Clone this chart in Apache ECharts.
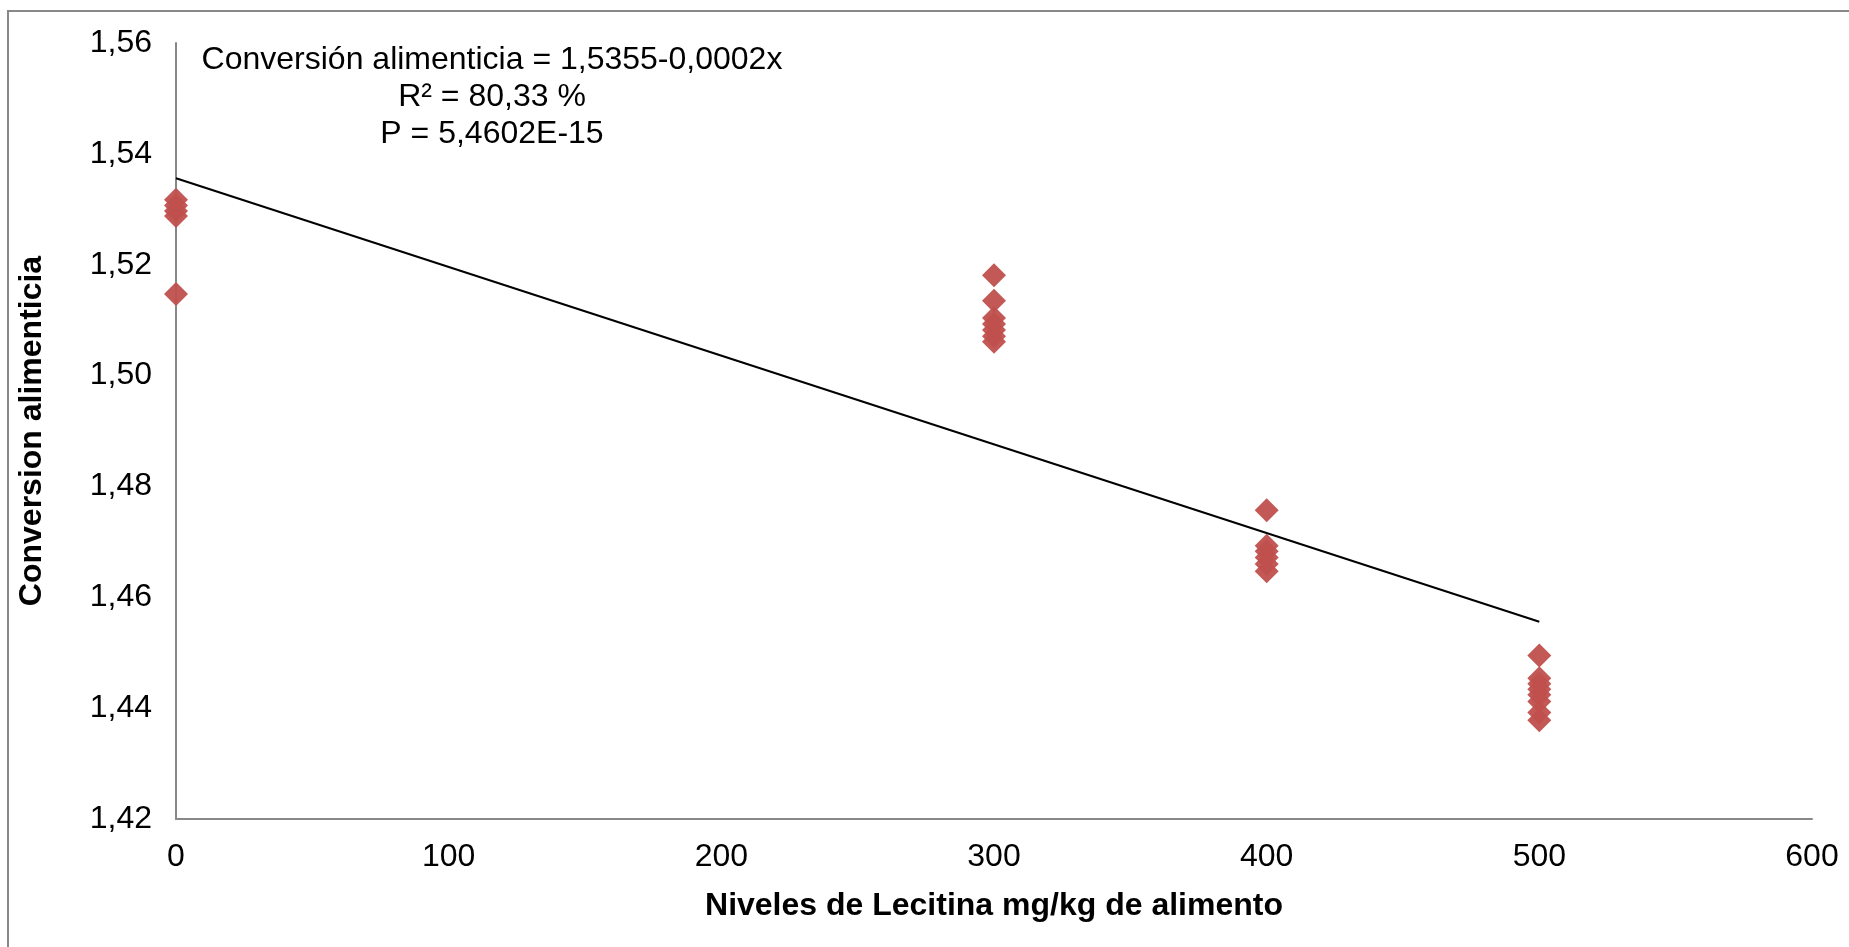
<!DOCTYPE html>
<html><head><meta charset="utf-8">
<script src="https://cdn.jsdelivr.net/npm/echarts@6/dist/echarts.min.js"></script>
<style>html,body{margin:0;padding:0;background:#fff}#c{width:1849px;height:947px}</style>
</head><body><div id="c"></div>
<script>
const lecitinaLevels = [0,0,0,0,0, 300,300,300,300,300,300,300, 400,400,400,400,400,400, 500,500,500,500,500,500,500,500];
const conversion = [1.5317,1.5307,1.5297,1.5288,1.5147,
  1.5181,1.5135,1.5104,1.5093,1.5082,1.5071,1.5061,
  1.4757,1.4693,1.4683,1.4672,1.4660,1.4647,
  1.4495,1.4454,1.4444,1.4434,1.4424,1.4412,1.4392,1.4378];
const trendX = [0, 500];
const trendY = [1.5356, 1.4556];
const xTicks = [0,100,200,300,400,500,600];
const yMin = 1.42, yMax = 1.56, yStep = 0.02;
const annotationLines = ['Conversión alimenticia = 1,5355-0,0002x','R² = 80,33 %','P = 5,4602E-15'];

const chart = echarts.init(document.getElementById('c'));
const font = '"Liberation Sans", Arial, sans-serif';
chart.setOption({
  animation:false,
  backgroundColor:'#fff',
  grid:{left:176, top:43, right:37, bottom:128},
  xAxis:{type:'value', min:xTicks[0], max:xTicks[xTicks.length-1], interval:100,
    axisLine:{lineStyle:{color:'#888', width:2}}, axisTick:{show:false}, splitLine:{show:false},
    axisLabel:{color:'#000', fontSize:32, fontFamily:font, margin:22},
    name:'Niveles de Lecitina mg/kg de alimento', nameLocation:'middle', nameGap:71,
    nameTextStyle:{color:'#000', fontSize:32, fontWeight:'bold', fontFamily:font}},
  yAxis:{type:'value', min:yMin, max:yMax, interval:yStep,
    axisLine:{show:true, lineStyle:{color:'#888', width:2}}, axisTick:{show:false}, splitLine:{show:false},
    axisLabel:{color:'#000', fontSize:32, fontFamily:font, margin:24, formatter:v=>v.toFixed(2).replace('.',',')},
    name:'Conversion alimenticia', nameLocation:'middle', nameGap:128,
    nameTextStyle:{color:'#000', fontSize:32, fontWeight:'bold', fontFamily:font}},
  graphic:[
    {type:'rect', shape:{x:8, y:11, width:1880, height:1000}, style:{fill:'none', stroke:'#888', lineWidth:2}, silent:true},
    {type:'text', x:492, y:42, style:{text:annotationLines.join('\n'), fill:'#000', font:'32px '+font, textAlign:'center', lineHeight:37}, z:10}
  ],
  series:[
    {type:'line', data:trendX.map((x,i)=>[x,trendY[i]]), showSymbol:false, symbol:'none',
      lineStyle:{color:'#000', width:2}, z:1},
    {type:'scatter', data:lecitinaLevels.map((x,i)=>[x,conversion[i]]), symbol:'diamond', symbolSize:24,
      itemStyle:{color:'#C0504D', opacity:0.95}, z:2}
  ]
});
</script></body></html>
